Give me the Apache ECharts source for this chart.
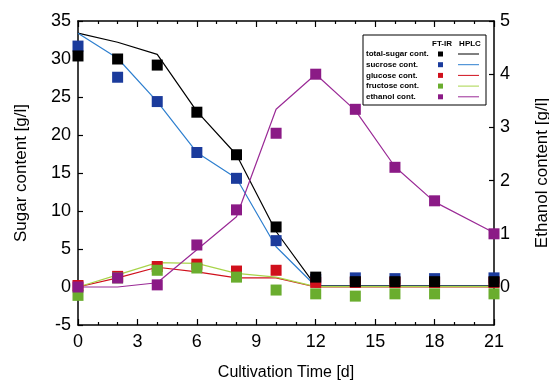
<!DOCTYPE html>
<html>
<head>
<meta charset="utf-8">
<script src="https://cdn.jsdelivr.net/npm/echarts@6/dist/echarts.min.js"></script>
<style>html,body{margin:0;padding:0;background:#fff}#c{width:549px;height:386px}</style>
</head>
<body>
<div id="c"></div>
<script>
// Days of sampling
var days = [0, 2, 4, 6, 8, 10, 12, 14, 16, 18, 21];
// FT-IR measurements (squares) [g/l]
var ftTotal    = [30.4, 30.0, 29.2, 23.0, 17.4, 7.9, 1.3, 0.7, 0.7, 0.7, 0.7];
var ftSucrose  = [31.7, 27.6, 24.4, 17.7, 14.3, 6.1, 1.0, 1.2, 1.1, 1.1, 1.2];
var ftGlucose  = [0.2, 1.4, 2.7, 3.0, 2.1, 2.2, 0.6, 0.6, 0.6, 0.6, 0.6];
var ftFructose = [-1.1, 1.2, 2.2, 2.5, 1.3, -0.4, -0.9, -1.2, -0.9, -0.9, -0.9];
var ftEthanol  = [0.0, 0.17, 0.04, 0.79, 1.45, 2.89, 4.0, 3.34, 2.25, 1.62, 1.0];
// HPLC measurements (lines) [g/l]
var hpTotal    = [33.4, 32.2, 30.6, 23.1, 17.4, 7.3, 0.15, 0.15, 0.15, 0.15, 0.15];
var hpSucrose  = [33.4, 30.1, 24.4, 17.7, 14.3, 5.3, 0.1, 0.1, 0.1, 0.1, 0.1];
var hpGlucose  = [0.0, 1.2, 2.6, 2.0, 1.2, 1.2, 0.0, 0.0, 0.0, 0.0, 0.0];
var hpFructose = [0.0, 1.6, 3.2, 3.1, 1.8, 1.3, 0.05, 0.05, 0.05, 0.05, 0.05];
var hpEthanol  = [0.0, 0.0, 0.08, 0.7, 1.32, 3.34, 4.0, 3.32, 2.26, 1.6, 1.02];
// Axis ticks
var xTicks = [0, 3, 6, 9, 12, 15, 18, 21];
var sugarTicks = [-5, 0, 5, 10, 15, 20, 25, 30, 35];
var ethanolTicks = [0, 1, 2, 3, 4, 5];
var legendNames = ['total-sugar cont.', 'sucrose cont.', 'glucose cont.', 'fructose cont.', 'ethanol cont.'];

var FONT = 'Arial, "Liberation Sans", Helvetica, sans-serif';
var sqColors = ['#000000', '#1b3b9c', '#d0101c', '#6aad2e', '#8b1a86'];
var lnColors = ['#000000', '#2e7fcf', '#d0101c', '#a8d44a', '#9a2a96'];

function pairs(v) { return days.map(function (d, i) { return [d, v[i]]; }); }

var ftSets = [ftTotal, ftSucrose, ftGlucose, ftFructose, ftEthanol];
var hpSets = [hpTotal, hpSucrose, hpGlucose, hpFructose, hpEthanol];

var series = [];
hpSets.forEach(function (v, i) {
  series.push({
    type: 'line', name: 'HPLC ' + legendNames[i], data: pairs(v),
    yAxisIndex: i === 4 ? 1 : 0, showSymbol: false, symbol: 'none',
    lineStyle: { color: lnColors[i], width: 1.2 }, z: 2, animation: false
  });
});
// squares draw order: sucrose, glucose, fructose, total, ethanol
[1, 2, 3, 0, 4].forEach(function (i, k) {
  series.push({
    type: 'scatter', name: 'FT-IR ' + legendNames[i], data: pairs(ftSets[i]),
    yAxisIndex: i === 4 ? 1 : 0, symbol: 'rect', symbolSize: 11,
    itemStyle: { color: sqColors[i], opacity: 1 }, z: 3 + k, animation: false
  });
});

// Legend box built as graphics
var lg = [];
var lx = 363, ly = 35, lw = 123, lh = 70;
lg.push({ type: 'rect', shape: { x: lx, y: ly, width: lw, height: lh }, style: { fill: '#fff', stroke: '#000', lineWidth: 1 }, z: 100 });
lg.push({ type: 'text', x: 442, y: 44, style: { text: 'FT-IR', font: 'bold 8px ' + FONT, fill: '#000', align: 'center', verticalAlign: 'middle' }, z: 101 });
lg.push({ type: 'text', x: 470, y: 44, style: { text: 'HPLC', font: 'bold 8px ' + FONT, fill: '#000', align: 'center', verticalAlign: 'middle' }, z: 101 });
legendNames.forEach(function (n, i) {
  var yy = 54 + i * 10.7;
  lg.push({ type: 'text', x: 366, y: yy, style: { text: n, font: 'bold 8px ' + FONT, fill: '#000', align: 'left', verticalAlign: 'middle' }, z: 101 });
  lg.push({ type: 'rect', shape: { x: 438, y: yy - 2.5, width: 5, height: 5 }, style: { fill: sqColors[i] }, z: 101 });
  lg.push({ type: 'line', shape: { x1: 458, y1: yy, x2: 479, y2: yy }, style: { stroke: lnColors[i], lineWidth: 1 }, z: 101 });
});

var chart = echarts.init(document.getElementById('c'), null, { renderer: 'canvas' });
chart.setOption({
  backgroundColor: '#fff',
  animation: false,
  grid: { left: 78, right: 55, top: 21, bottom: 61, containLabel: false, outerBoundsMode: 'none' },
  xAxis: [{
    type: 'value', min: 0, max: 21, interval: 3, position: 'bottom',
    name: 'Cultivation Time [d]', nameLocation: 'middle', nameGap: 40,
    nameTextStyle: { fontFamily: FONT, fontSize: 16, color: '#000' },
    axisLine: { onZero: false, lineStyle: { color: '#000', width: 1.5 } },
    axisTick: { inside: true, length: 6, lineStyle: { color: '#000', width: 1.2 } },
    minorTick: { show: true, splitNumber: 3, length: 3, lineStyle: { color: '#000', width: 1.2 } },
    splitLine: { show: false },
    axisLabel: { fontFamily: FONT, fontSize: 18, color: '#000', margin: 8,
      formatter: function (v) { return xTicks.indexOf(v) >= 0 ? String(v) : ''; } }
  }, {
    type: 'value', min: 0, max: 21, interval: 3, position: 'top',
    axisLine: { onZero: false, lineStyle: { color: '#000', width: 1.5 } },
    axisTick: { inside: true, length: 6, lineStyle: { color: '#000', width: 1.2 } },
    minorTick: { show: true, splitNumber: 3, length: 3, lineStyle: { color: '#000', width: 1.2 } },
    splitLine: { show: false }, axisLabel: { show: false }
  }],
  yAxis: [{
    type: 'value', min: -5, max: 35, interval: 5, position: 'left',
    name: 'Sugar content [g/l]', nameLocation: 'middle', nameGap: 48,
    nameTextStyle: { fontFamily: FONT, fontSize: 17, color: '#000' },
    axisLine: { onZero: false, lineStyle: { color: '#000', width: 1.5 } },
    axisTick: { inside: true, length: 5, lineStyle: { color: '#000', width: 1.2 } },
    splitLine: { show: false },
    axisLabel: { fontFamily: FONT, fontSize: 18, color: '#000', margin: 7,
      formatter: function (v) { return sugarTicks.indexOf(v) >= 0 ? String(v) : ''; } }
  }, {
    type: 'value', min: -5 / 7, max: 5, position: 'right',
    name: 'Ethanol content [g/l]', nameLocation: 'middle', nameGap: 40,
    nameTextStyle: { fontFamily: FONT, fontSize: 17, color: '#000' },
    axisLine: { onZero: false, lineStyle: { color: '#000', width: 1.5 } },
    axisTick: { inside: true, length: 5, customValues: ethanolTicks, lineStyle: { color: '#000', width: 1.2 } },
    splitLine: { show: false },
    axisLabel: { fontFamily: FONT, fontSize: 18, color: '#000', margin: 6, customValues: ethanolTicks,
      formatter: function (v) { return String(Math.round(v)); } }
  }],
  series: series,
  graphic: lg
});
</script>
</body>
</html>
